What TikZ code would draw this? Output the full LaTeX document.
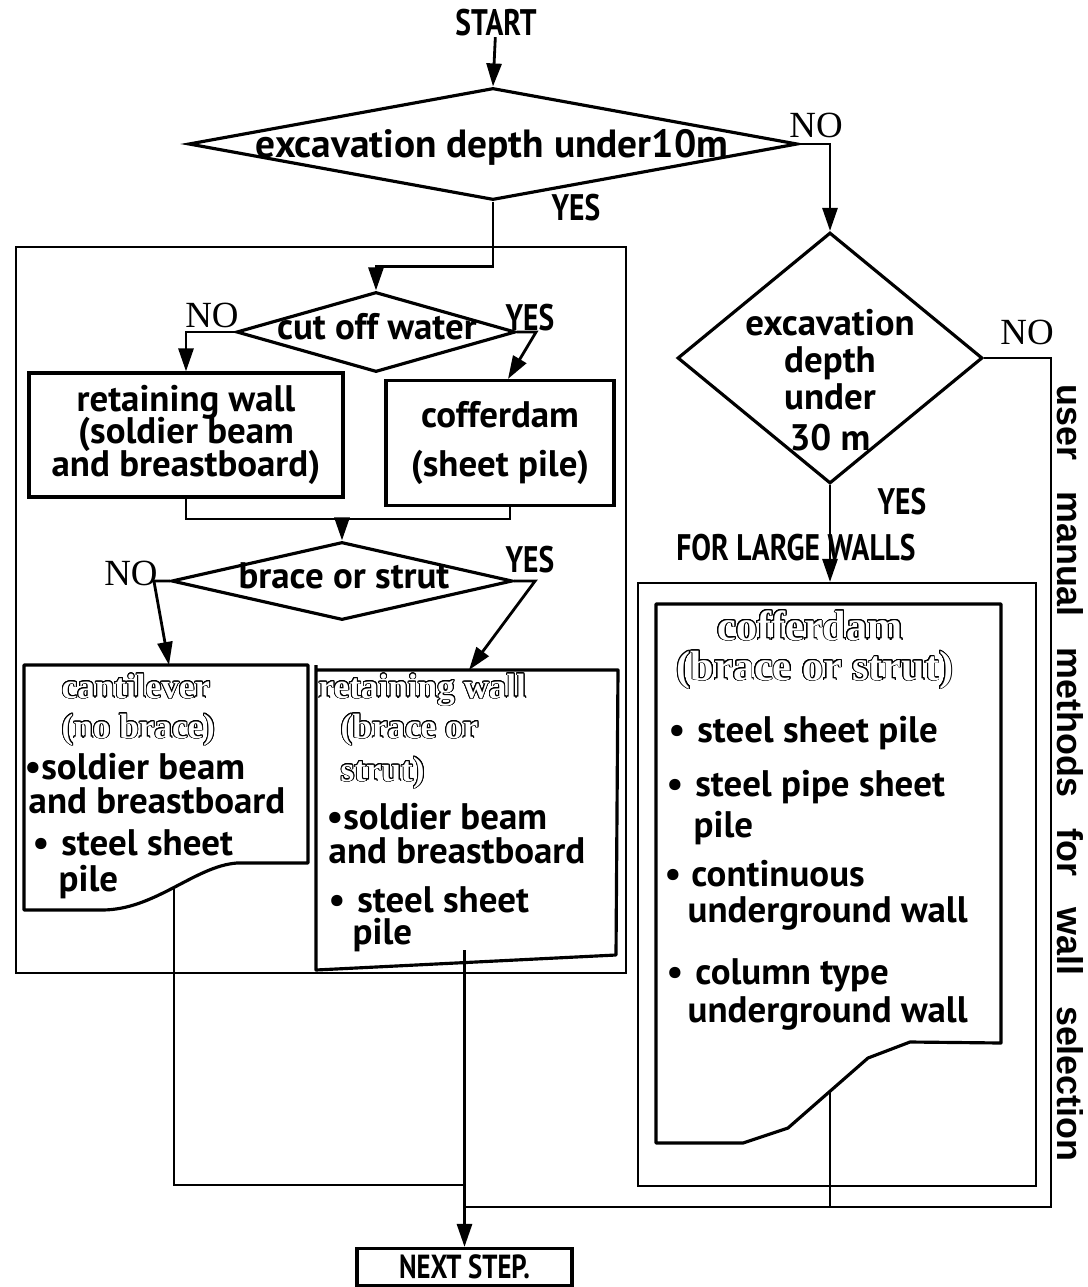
\documentclass[tikz,border=0pt]{standalone}
\usepackage{fontspec}
\usepackage{contour}
\usepackage{tikz}
\usetikzlibrary{shapes.geometric,arrows.meta,positioning,calc}

\newfontfamily\flowfont{PT Sans}
\newfontfamily\capfont[FakeStretch=0.8]{PT Sans}
\newfontfamily\labelfont{Liberation Serif}
\newfontfamily\sidefont{Liberation Sans}
\contourlength{0.25pt}
\contournumber{24}
\newcommand{\hollow}[1]{\textcolor{white}{\contour{black}{#1}}}

\begin{document}
\begin{tikzpicture}[
    x=1cm, y=-1cm,
    txt/.style={inner sep=0pt, font=\flowfont\bfseries\fontsize{10.5}{10}\selectfont},
    caps/.style={inner sep=0pt, font=\capfont\bfseries\fontsize{10.5}{10}\selectfont},
    yesno/.style={inner sep=0pt, font=\labelfont\fontsize{10.5}{10}\selectfont},
    hollowtext/.style={inner sep=0pt, font=\labelfont\bfseries\fontsize{10}{10}\selectfont},
    sidetext/.style={inner sep=0pt, font=\sidefont\bfseries\fontsize{10.2}{10}\selectfont},
    decision/.style={diamond, draw, line width=0.9pt, inner sep=0pt},
    box/.style={rectangle, draw, line width=0.9pt, inner sep=0pt},
    frame/.style={rectangle, draw, line width=0.6pt, inner sep=0pt},
    docline/.style={line width=0.9pt, line join=round},
    arr/.style={line width=0.8pt, -{Triangle[length=2.3mm,width=1.5mm]}},
    link/.style={line width=0.6pt},
    exit/.style={line width=0.5pt},
]
    \useasboundingbox (0,0) rectangle (10.88,12.87);

    % first check
    \node[caps] (start) at (4.96,0.23) {START};
    \node[decision, minimum width=6.09cm, minimum height=1.12cm] (depth10) at (4.93,1.44) {};
    \node[txt, font=\flowfont\bfseries\fontsize{11.2}{10}\selectfont] (depth10text) at (4.92,1.47) {excavation depth under10m};
    \node[yesno] (no10) at (8.16,1.25) {NO};
    \node[caps] (yes10) at (5.76,2.08) {YES};
    \draw[arr] (start) -- (depth10.north);

    % small walls frame
    \draw[frame] (0.16,2.47) rectangle (6.26,9.73);

    % cut off water
    \node[decision, minimum width=2.79cm, minimum height=0.80cm] (water) at (3.76,3.32) {};
    \node[txt] (watertext) at (3.77,3.27) {cut off water};
    \node[yesno] (nowater) at (2.12,3.15) {NO};
    \node[caps] (yeswater) at (5.30,3.18) {YES};
    \draw[arr] (depth10.south) |- ([yshift=0.24cm]water.north) -- (water.north);

    \node[box, txt, align=center, minimum width=3.14cm, minimum height=1.24cm] (wallbox) at (1.86,4.35)
        {retaining wall\\[-1pt](soldier beam\\[-0.6pt]and breastboard)};
    \node[box, txt, align=center, minimum width=2.28cm, minimum height=1.25cm] (cofferbox) at (5.00,4.43)
        {cofferdam\\[4.2pt](sheet pile)};
    \draw[arr] (water.west) -| (wallbox.north);
    \draw[arr] (water.east) -- ++(0.19,0) -- ([xshift=0.8mm]cofferbox.north);

    % brace or strut
    \coordinate (merge) at (3.42,5.19);
    \draw[link] (wallbox.south) |- (merge) -| ([xshift=1mm]cofferbox.south);
    \node[decision, minimum width=3.41cm, minimum height=0.78cm] (brace) at (3.42,5.81) {};
    \node[txt] (bracetext) at (3.44,5.76) {brace or strut};
    \node[yesno] (nobrace) at (1.31,5.73) {NO};
    \node[caps] (yesbrace) at (5.30,5.60) {YES};
    \draw[arr] (merge) -- (brace.north);

    % cantilever document
    \coordinate (cantitop) at (1.69,6.65);
    \draw[docline] (0.24,6.65) -- (3.08,6.65) -- (3.08,8.63) -- (2.37,8.63)
        .. controls (1.95,8.66) and (1.55,9.10) .. (1.02,9.10) coordinate[pos=0.5] (cantiexit)
        -- (0.24,9.10) -- cycle;
    % retaining wall document
    \coordinate (retaintop) at (4.69,6.70);
    \coordinate (retainexit) at (4.645,9.50);
    \draw[docline] (3.16,6.65) -- (3.16,9.70) -- (6.16,9.55) -- (6.18,6.70) -- (3.16,6.70);
    \draw[arr] (brace.west) -- ++(-0.16,0) -- (cantitop);
    \draw[arr] (brace.east) -- ++(0.21,0) -- (retaintop);

    \foreach \x/\y/\t [count=\i] in {0.61/6.98/cantilever, 0.61/7.38/(no brace),
        3.18/6.98/retaining wall, 3.40/7.38/(brace or, 3.40/7.81/strut)}
        \node[hollowtext, anchor=base west] (title\i) at (\x,\y) {\hollow{\t}};
    \foreach \x/\y/\t [count=\i] in {0.24/7.79/•soldier beam, 0.28/8.13/and breastboard,
        0.32/8.55/•\hspace{1.2mm}steel sheet, 0.58/8.91/pile,
        3.26/8.29/•soldier beam, 3.28/8.63/and breastboard,
        3.28/9.12/•\hspace{1.2mm}steel sheet, 3.52/9.44/pile}
        \node[txt, anchor=base west] (item\i) at (\x,\y) {\t};

    % second check
    \node[decision, minimum width=3.05cm, minimum height=2.51cm] (depth30) at (8.30,3.58) {};
    \node[txt, align=center] (depth30text) at (8.30,3.80) {excavation\\[0.6pt]depth\\[0.6pt]under\\[1.5pt]30 m};
    \node[yesno] (no30) at (10.27,3.32) {NO};
    \node[caps] (yes30) at (9.02,5.02) {YES};
    \node[caps] (largewalls) at (7.96,5.48) {FOR LARGE WALLS};
    \draw[arr] (depth10.east) -| (depth30.north);

    % large walls frame and cofferdam document
    \node[frame, minimum width=3.98cm, minimum height=6.03cm] (largeframe) at (8.37,8.845) {};
    \draw[arr] (depth30.south) -- (depth30.south |- largeframe.north);
    \draw[docline] (6.56,6.04) -- (10.01,6.04) -- (10.01,10.43) -- (9.10,10.42) -- (8.68,10.58)
        -- (7.88,11.28) coordinate[pos=0.475] (cofferexit) -- (7.43,11.43) -- (6.56,11.43) -- cycle;
    \node[hollowtext, font=\labelfont\bfseries\fontsize{12}{12}\selectfont, anchor=base] (coffertitle) at (8.10,6.40) {\hollow{cofferdam}};
    \node[hollowtext, font=\labelfont\bfseries\fontsize{12}{12}\selectfont, anchor=base] (coffersub) at (8.15,6.80) {\hollow{(brace or strut)}};
    \foreach \x/\y/\t [count=\i] in {6.68/7.42/•\hspace{1.2mm}steel sheet pile,
        6.66/7.96/•\hspace{1.2mm}steel pipe sheet, 6.93/8.37/pile,
        6.64/8.86/•\hspace{1mm}continuous, 6.87/9.22/underground wall,
        6.66/9.84/•\hspace{1.2mm}column type, 6.87/10.22/underground wall}
        \node[txt, anchor=base west] (method\i) at (\x,\y) {\t};

    % exits to next step
    \coordinate (leftjoin) at (4.645,11.85);
    \coordinate (railbottom) at (10.51,12.07);
    \node[box, caps, font=\capfont\bfseries\fontsize{9.5}{9}\selectfont, minimum width=2.15cm, minimum height=0.37cm] (nextstep) at (4.645,12.67) {NEXT STEP.};
    \draw[exit] (cantiexit) |- (leftjoin);
    \draw[arr] (retainexit) -- (nextstep.north);
    \draw[exit] (cofferexit) -- (cofferexit |- railbottom);
    \draw[link] (depth30.east) -| (railbottom) -- (retainexit |- railbottom);

    \node[sidetext, rotate=-90] (sidetitle) at (10.70,7.73)
        {\makebox[7.77cm][s]{user manual methods for wall selection}};
\end{tikzpicture}
\end{document}
